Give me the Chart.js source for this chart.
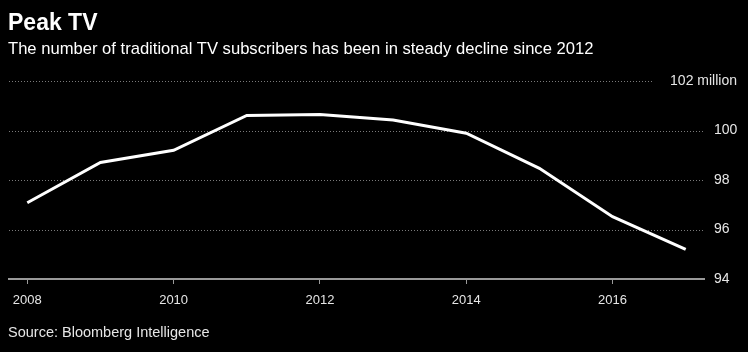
<!DOCTYPE html>
<html>
<head>
<meta charset="utf-8">
<script src="https://cdn.jsdelivr.net/npm/chart.js@4"></script>
<style>
  body { margin: 0; background: #000; }
  #wrap { position: relative; width: 748px; height: 352px; background: #000; overflow: hidden; }
  canvas { position: absolute; left: 0; top: 0; }
  .txt { position: absolute; color: #fff; font-family: "Liberation Sans", Arial, sans-serif; white-space: nowrap; }
  #title { left: 8px; top: 9px; font-size: 23px; font-weight: bold; }
  #sub { left: 8px; top: 39px; font-size: 16.6px; }
  #source { left: 8px; top: 324px; font-size: 14.5px; color: #e6e6e6; }
</style>
</head>
<body>
<div id="wrap">
  <canvas id="tvChart" width="748" height="352"></canvas>
  <div class="txt" id="title">Peak TV</div>
  <div class="txt" id="sub">The number of traditional TV subscribers has been in steady decline since 2012</div>
  <div class="txt" id="source">Source: Bloomberg Intelligence</div>
</div>
<script>
// traditional TV subscribers, millions
const years = [2008, 2009, 2010, 2011, 2012, 2013, 2014, 2015, 2016, 2017];
const subscribers = [97.08, 98.71, 99.2, 100.61, 100.65, 100.42, 99.89, 98.47, 96.52, 95.2];

const xTicks = [2008, 2010, 2012, 2014, 2016];
const yTicks = [94, 96, 98, 100, 102];
const yLabels = ["94", "96", "98", "100", "102 million"];

// draws the dotted grid and the right hand labels
const yAxisPlugin = {
    id: "yAxisPlugin",
    beforeDatasetsDraw(chart) {
        const ctx = chart.ctx;
        const y = chart.scales.y;
        const area = chart.chartArea;
        ctx.save();
        ctx.strokeStyle = "#7a7a7a";
        ctx.lineWidth = 1;
        ctx.setLineDash([1, 2]);
        yTicks.forEach(function (v, i) {
            if (i === 0) return;
            const py = Math.round(y.getPixelForValue(v)) + 0.5;
            const right = (i === yTicks.length - 1) ? 652 : area.right;
            ctx.beginPath();
            ctx.moveTo(area.left, py);
            ctx.lineTo(right, py);
            ctx.stroke();
        });
        ctx.restore();
    },
    afterDraw(chart) {
        const ctx = chart.ctx;
        const y = chart.scales.y;
        ctx.save();
        ctx.fillStyle = "#e6e6e6";
        ctx.font = "14px 'Liberation Sans', Arial, sans-serif";
        ctx.textBaseline = "middle";
        yTicks.forEach(function (v, i) {
            const py = y.getPixelForValue(v);
            if (i === yTicks.length - 1) {
                ctx.textAlign = "right";
                ctx.fillText(yLabels[i], 737, py);
            } else {
                ctx.textAlign = "left";
                ctx.fillText(yLabels[i], 714, py);
            }
        });
        ctx.restore();
    }
};

const ctx = document.getElementById("tvChart").getContext("2d");
const tvChart = new Chart(ctx, {
    type: "line",
    data: {
        labels: years,
        datasets: [{
            data: years.map(function (yr, i) { return { x: yr, y: subscribers[i] }; }),
            borderColor: "#ffffff",
            borderWidth: 3,
            pointRadius: 0,
            tension: 0,
            fill: false
        }]
    },
    options: {
        responsive: false,
        animation: false,
        layout: { padding: { top: 81, left: 9, right: 0, bottom: 0 } },
        plugins: {
            legend: { display: false },
            tooltip: { enabled: false }
        },
        scales: {
            x: {
                type: "linear",
                min: 2007.75,
                max: 2017.25,
                afterBuildTicks: function (scale) {
                    scale.ticks = xTicks.map(function (v) { return { value: v }; });
                },
                afterFit: function (scale) { scale.height = 73; },
                ticks: {
                    autoSkip: false,
                    maxRotation: 0,
                    padding: 9,
                    color: "#e6e6e6",
                    font: { family: "'Liberation Sans', Arial, sans-serif", size: 13 },
                    callback: function (v) { return String(v); }
                },
                grid: {
                    drawOnChartArea: false,
                    drawTicks: true,
                    tickLength: 5,
                    color: "#9a9a9a"
                },
                border: { display: true, color: "#9a9a9a", width: 2 }
            },
            y: {
                position: "right",
                min: 94,
                max: 102,
                afterFit: function (scale) { scale.width = 44; },
                ticks: { display: false },
                grid: { display: false },
                border: { display: false }
            }
        }
    },
    plugins: [yAxisPlugin]
});
</script>
</body>
</html>
